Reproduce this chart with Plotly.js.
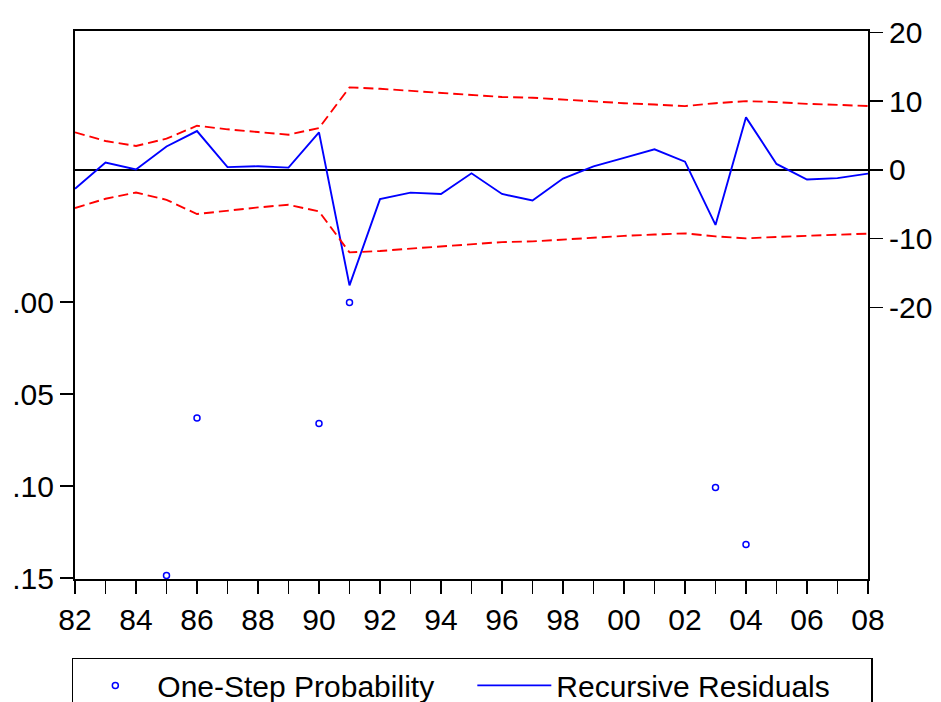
<!DOCTYPE html>
<html>
<head>
<meta charset="utf-8">
<script src="https://cdn.plot.ly/plotly-3.0.1.min.js"></script>
<style>
  html, body { margin: 0; padding: 0; background: #fff; }
  #chart { width: 941px; height: 702px; }
</style>
</head>
<body>
<div id="chart"></div>
<script>
// ---- data ----
const years = [1982, 1983, 1984, 1985, 1986, 1987, 1988, 1989, 1990, 1991, 1992, 1993, 1994, 1995,
               1996, 1997, 1998, 1999, 2000, 2001, 2002, 2003, 2004, 2005, 2006, 2007, 2008];
const recursiveResiduals = [-2.75, 1.06, 0.05, 3.4, 5.65, 0.4, 0.53, 0.33, 5.46, -16.8, -4.25, -3.3, -3.5, -0.5,
                            -3.5, -4.45, -1.26, 0.5, 1.74, 3.0, 1.2, -8.0, 7.64, 0.87, -1.4, -1.2, -0.54];
const upperBand = [5.46, 4.2, 3.48, 4.54, 6.42, 5.9, 5.5, 5.12, 6.09, 12.0, 11.8, 11.5, 11.16, 10.9,
                   10.6, 10.5, 10.2, 9.96, 9.7, 9.5, 9.28, 9.7, 10.0, 9.86, 9.6, 9.46, 9.28];
const lowerBand = [-5.55, -4.2, -3.3, -4.35, -6.42, -5.9, -5.46, -5.07, -6.04, -12.0, -11.8, -11.45, -11.16, -10.8,
                   -10.5, -10.4, -10.1, -9.8, -9.6, -9.4, -9.23, -9.67, -9.96, -9.75, -9.6, -9.4, -9.27];
const probYears = [1985, 1986, 1990, 1991, 2003, 2004];
const probValues = [0.1486, 0.063, 0.066, 0.0002, 0.1007, 0.1317];

const xTickLabels = ["82", "", "84", "", "86", "", "88", "", "90", "", "92", "", "94", "", "96", "", "98", "",
                     "00", "", "02", "", "04", "", "06", "", "08"];
const leftTickVals = [0, 0.05, 0.10, 0.15];
const leftTickText = [".00", ".05", ".10", ".15"];
const rightTickVals = [20, 10, 0, -10, -20];
const rightTickText = ["20", "10", "0", "-10", "-20"];

const FONT = "Liberation Sans, Arial, Helvetica, sans-serif";

const traces = [
  {
    name: "One-Step Probability",
    x: probYears, y: probValues, yaxis: "y",
    type: "scatter", mode: "markers",
    marker: { symbol: "circle-open", size: 6, color: "#0000ff", line: { width: 1.5, color: "#0000ff" } },
    cliponaxis: false
  },
  {
    name: "Recursive Residuals",
    x: years, y: recursiveResiduals, yaxis: "y2",
    type: "scatter", mode: "lines",
    line: { color: "#0000ff", width: 1.9 }
  },
  {
    name: "+2 S.E.",
    x: years, y: upperBand, yaxis: "y2",
    type: "scatter", mode: "lines", showlegend: false,
    line: { color: "#ff0000", width: 1.9, dash: "10px,5px" }
  },
  {
    name: "-2 S.E.",
    x: years, y: lowerBand, yaxis: "y2",
    type: "scatter", mode: "lines", showlegend: false,
    line: { color: "#ff0000", width: 1.9, dash: "10px,5px" }
  }
];

const layout = {
  width: 941, height: 702,
  margin: { l: 75, r: 73, t: 31, b: 123, pad: 0, autoexpand: false },
  paper_bgcolor: "#ffffff", plot_bgcolor: "#ffffff",
  font: { family: FONT, size: 29, color: "#000" },
  showlegend: true,
  xaxis: {
    range: [1982, 2008],
    tickmode: "array", tickvals: years, ticktext: xTickLabels,
    ticks: "outside", ticklen: 13, tickwidth: 1.5, tickcolor: "#000",
    showline: true, linewidth: 2, linecolor: "#000", mirror: true,
    showgrid: false, zeroline: false,
    tickfont: { family: FONT, size: 30, color: "#000" }
  },
  yaxis: {
    range: [0.1505, -0.1475],
    tickmode: "array", tickvals: leftTickVals, ticktext: leftTickText,
    ticks: "outside", ticklen: 13, tickwidth: 1.5, tickcolor: "#000",
    showline: true, linewidth: 2, linecolor: "#000",
    showgrid: false, zeroline: false,
    tickfont: { family: FONT, size: 30, color: "#000" }
  },
  yaxis2: {
    overlaying: "y", side: "right",
    range: [-59.5, 20.2],
    tickmode: "array", tickvals: rightTickVals, ticktext: rightTickText,
    ticks: "outside", ticklen: 13, tickwidth: 1.5, tickcolor: "#000",
    showline: true, linewidth: 2, linecolor: "#000",
    showgrid: false,
    zeroline: true, zerolinecolor: "#000", zerolinewidth: 1.4,
    tickfont: { family: FONT, size: 30, color: "#000" }
  },
  legend: {
    orientation: "h",
    x: -0.004, xanchor: "left",
    y: -0.144, yanchor: "top",
    bgcolor: "#ffffff", bordercolor: "#000", borderwidth: 1.5,
    font: { family: FONT, size: 30, color: "#000" },
    itemwidth: 74,
    entrywidth: 310, entrywidthmode: "pixels"
  }
};

Plotly.newPlot("chart", traces, layout, { staticPlot: true, displayModeBar: false });
</script>
</body>
</html>
